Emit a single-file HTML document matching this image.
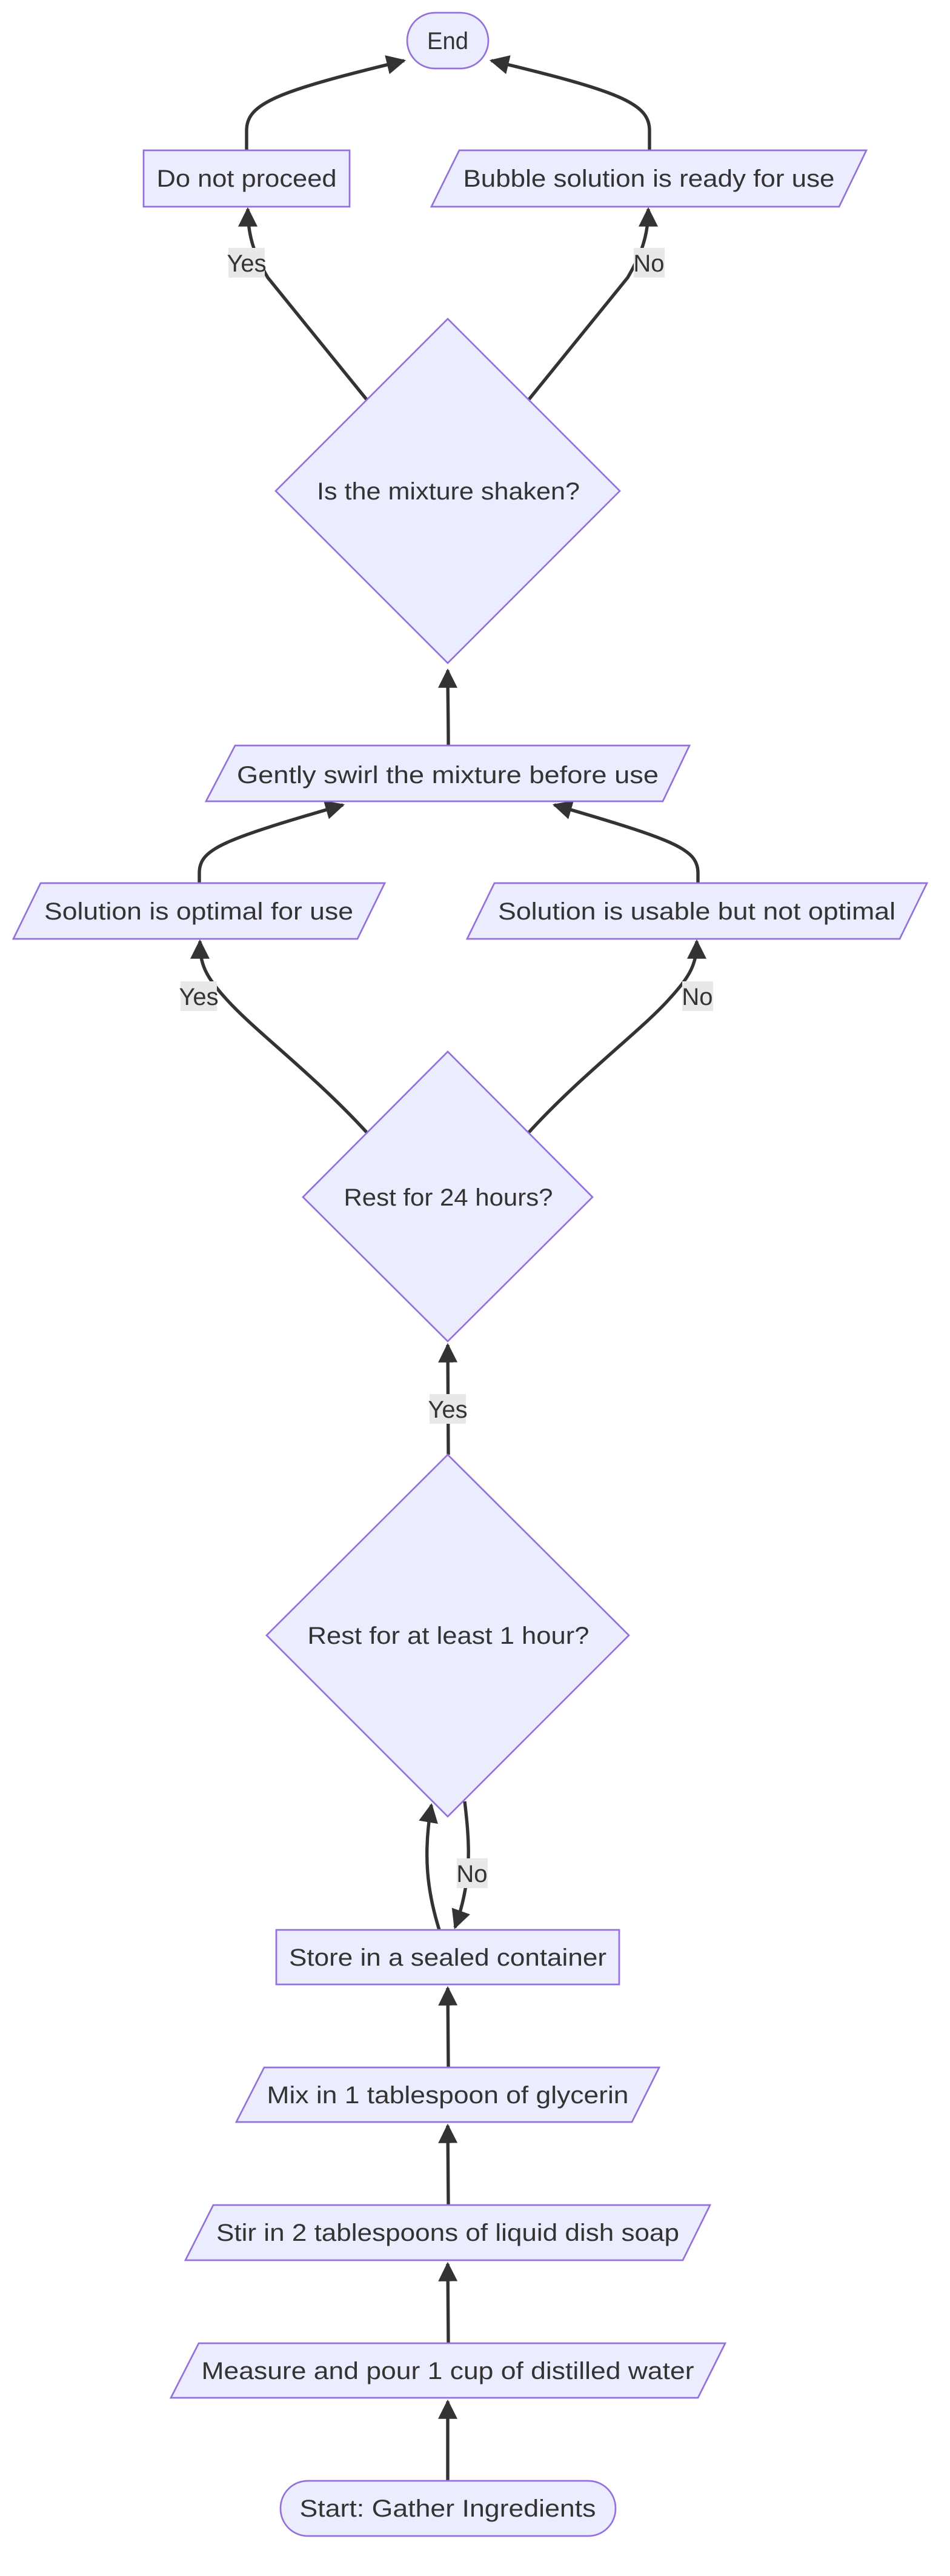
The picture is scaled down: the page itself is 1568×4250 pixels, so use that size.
<!DOCTYPE html>
<html><head><meta charset="utf-8"><style>
html,body{margin:0;padding:0;background:#fff;}
svg{display:block;}
text{font-family:"Liberation Sans",sans-serif;font-size:40px;fill:#333;}
.n{fill:#ECECFF;stroke:#9370DB;stroke-width:2.7;}
.e{fill:none;stroke:#333;stroke-width:5.4;}
.lb{fill:#e8e8e8;}
</style></head><body>
<svg width="1568" height="4250" viewBox="0 0 1568 4250" xmlns="http://www.w3.org/2000/svg">
<defs>
<marker id="a" markerUnits="userSpaceOnUse" markerWidth="32" markerHeight="32" viewBox="0 0 10 10" refX="9" refY="5" orient="auto">
<path d="M0,0 L10,5 L0,10 z" fill="#333"/>
</marker>
</defs>
<!-- edges -->
<path class="e" d="M407,248 L407,215 C407,170 460,150 667,100" marker-end="url(#a)"/>
<path class="e" d="M1072,248 L1072,215 C1072,170 1020,150 811,100" marker-end="url(#a)"/>
<path class="e" d="M605,659 L442,458 C420,420 409,390 409,345" marker-end="url(#a)"/>
<path class="e" d="M873,659 L1036,458 C1058,420 1070,390 1070,345" marker-end="url(#a)"/>
<path class="e" d="M740,1230 C740,1180 739,1150 739,1106" marker-end="url(#a)"/>
<path class="e" d="M329,1457 L329,1440 C329,1400 370,1385 566,1328" marker-end="url(#a)"/>
<path class="e" d="M1152,1457 L1152,1440 C1152,1400 1110,1385 915,1328" marker-end="url(#a)"/>
<path class="e" d="M605,1868 C520,1775 420,1700 375,1650 C338,1610 330,1590 330,1553" marker-end="url(#a)"/>
<path class="e" d="M873,1868 C958,1775 1058,1700 1103,1650 C1140,1610 1150,1590 1150,1553" marker-end="url(#a)"/>
<path class="e" d="M740,2400 L739,2219" marker-end="url(#a)"/>
<path class="e" d="M725,3184 C705,3120 698,3060 712,2978" marker-end="url(#a)"/>
<path class="e" d="M767,2972 C775,3040 780,3100 751,3180" marker-end="url(#a)"/>
<path class="e" d="M740,3411 L739,3280" marker-end="url(#a)"/>
<path class="e" d="M740,3638 L739,3507" marker-end="url(#a)"/>
<path class="e" d="M740,3866 L739,3735" marker-end="url(#a)"/>
<path class="e" d="M739,4093 L739,3962" marker-end="url(#a)"/>
<!-- edge labels -->
<rect class="lb" x="377" y="409" width="60" height="49"/><text x="407" y="448" text-anchor="middle">Yes</text>
<rect class="lb" x="1046" y="409" width="51" height="49"/><text x="1071" y="448" text-anchor="middle">No</text>
<rect class="lb" x="298" y="1619" width="60" height="49"/><text x="328" y="1658" text-anchor="middle">Yes</text>
<rect class="lb" x="1126" y="1619" width="51" height="49"/><text x="1151" y="1658" text-anchor="middle">No</text>
<rect class="lb" x="709" y="2300" width="60" height="49"/><text x="739" y="2339" text-anchor="middle">Yes</text>
<rect class="lb" x="754" y="3066" width="51" height="49"/><text x="779" y="3105" text-anchor="middle">No</text>
<!-- nodes -->
<rect class="n" x="672" y="21" width="134" height="92" rx="46"/>
<text x="739" y="81" text-anchor="middle" textLength="68" lengthAdjust="spacingAndGlyphs">End</text>
<rect class="n" x="237" y="248" width="340" height="93"/>
<text x="407" y="308" text-anchor="middle" textLength="297" lengthAdjust="spacingAndGlyphs">Do not proceed</text>
<polygon class="n" points="758,248 1430,248 1385,341 712,341"/>
<text x="1071" y="308" text-anchor="middle" textLength="613" lengthAdjust="spacingAndGlyphs">Bubble solution is ready for use</text>
<polygon class="n" points="739,526 1023,810 739,1094 455,810"/>
<text x="740" y="824" text-anchor="middle" textLength="434" lengthAdjust="spacingAndGlyphs">Is the mixture shaken?</text>
<polygon class="n" points="388,1230 1138,1230 1094,1322 340,1322"/>
<text x="739" y="1292" text-anchor="middle" textLength="696" lengthAdjust="spacingAndGlyphs">Gently swirl the mixture before use</text>
<polygon class="n" points="67,1457 635,1457 590,1549 22,1549"/>
<text x="328" y="1517" text-anchor="middle" textLength="510" lengthAdjust="spacingAndGlyphs">Solution is optimal for use</text>
<polygon class="n" points="816,1457 1530,1457 1485,1549 771,1549"/>
<text x="1150" y="1517" text-anchor="middle" textLength="656" lengthAdjust="spacingAndGlyphs">Solution is usable but not optimal</text>
<polygon class="n" points="739,1735 978,1975 739,2213 500,1975"/>
<text x="740" y="1989" text-anchor="middle" textLength="345" lengthAdjust="spacingAndGlyphs">Rest for 24 hours?</text>
<polygon class="n" points="739,2400 1038,2698 739,2997 440,2698"/>
<text x="740" y="2712" text-anchor="middle" textLength="465" lengthAdjust="spacingAndGlyphs">Rest for at least 1 hour?</text>
<rect class="n" x="456" y="3184" width="566" height="90"/>
<text x="739" y="3243" text-anchor="middle" textLength="524" lengthAdjust="spacingAndGlyphs">Store in a sealed container</text>
<polygon class="n" points="436,3411 1088,3411 1043,3501 390,3501"/>
<text x="739" y="3470" text-anchor="middle" textLength="597" lengthAdjust="spacingAndGlyphs">Mix in 1 tablespoon of glycerin</text>
<polygon class="n" points="352,3638 1172,3638 1127,3729 306,3729"/>
<text x="739" y="3697" text-anchor="middle" textLength="764" lengthAdjust="spacingAndGlyphs">Stir in 2 tablespoons of liquid dish soap</text>
<polygon class="n" points="328,3866 1197,3866 1152,3956 282,3956"/>
<text x="739" y="3925" text-anchor="middle" textLength="813" lengthAdjust="spacingAndGlyphs">Measure and pour 1 cup of distilled water</text>
<rect class="n" x="463" y="4093" width="553" height="91" rx="45"/>
<text x="739" y="4152" text-anchor="middle" textLength="489" lengthAdjust="spacingAndGlyphs">Start: Gather Ingredients</text>
</svg>
</body></html>
